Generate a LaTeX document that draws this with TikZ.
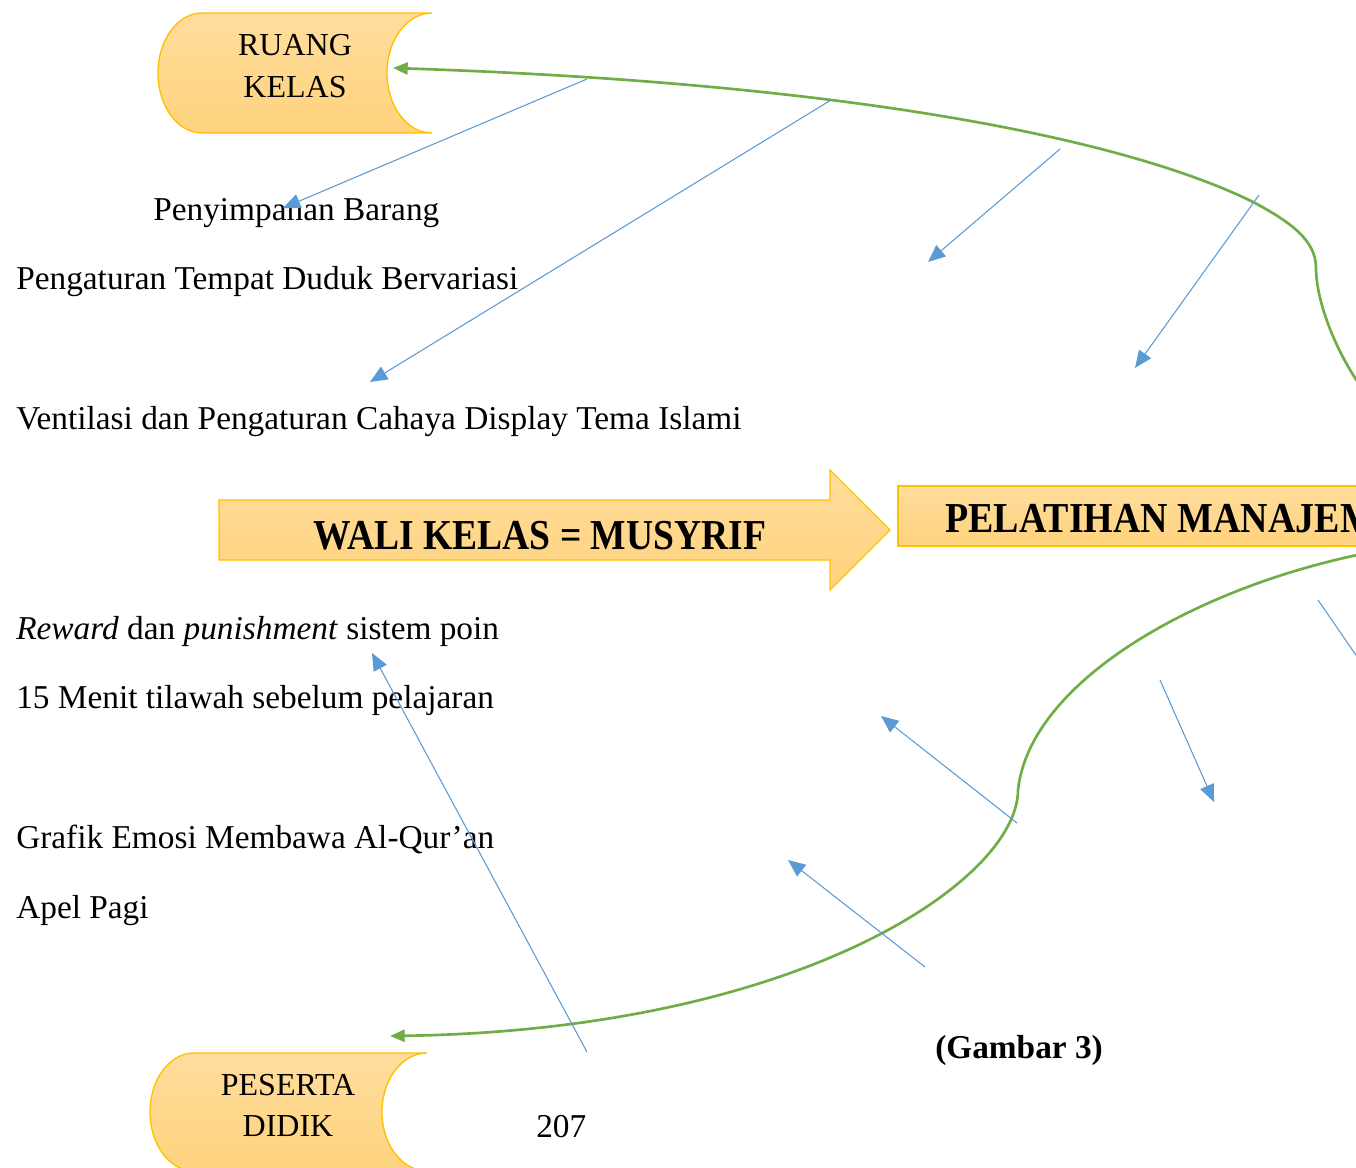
\documentclass[tikz,border=0pt]{standalone}
\usepackage{fontspec}
\setmainfont{Liberation Serif}
\usetikzlibrary{arrows.meta}
\definecolor{goldline}{HTML}{FFC000}
\definecolor{filltop}{HTML}{FFDD9C}
\definecolor{fillbot}{HTML}{FFD37E}
\definecolor{grn}{HTML}{70AD47}
\definecolor{blu}{HTML}{5B9BD5}
\tikzset{
  shapebox/.style={draw=goldline, line width=1pt, top color=filltop, bottom color=fillbot},
  greenarrow/.style={draw=grn, line width=2pt, -{Triangle[length=11pt,width=9pt]}},
  bluearrow/.style={draw=blu, line width=0.8pt, -{Triangle[length=13pt,width=11pt]}},
  bodytext/.style={font=\fontsize{25}{30}\selectfont, inner sep=0pt, anchor=base west},
  shapetext/.style={font=\fontsize{24}{29}\selectfont, inner sep=0pt, anchor=base},
  titletext/.style={font=\bfseries\fontsize{32}{38}\selectfont, inner sep=0pt, anchor=base},
}
\begin{document}
\begin{tikzpicture}[x=0.75pt,y=-0.75pt]
\useasboundingbox (0,0) rectangle (1356,1167);
\clip (0,0) rectangle (1356,1167);

% RUANG KELAS shape
\path[shapebox] (202,13) -- (432,13)
  .. controls (407.1,13) and (387,39.9) .. (387,73)
  .. controls (387,106.1) and (407.1,133) .. (432,133)
  -- (202,133)
  .. controls (177.7,133) and (158,106.1) .. (158,73)
  .. controls (158,39.9) and (177.7,13) .. (202,13) -- cycle;
\node[shapetext] (rk1) at (295,55) {RUANG};
\node[shapetext] (rk2) at (295,97) {KELAS};
\coordinate (rktip) at (393,68);

% PESERTA DIDIK shape
\path[shapebox] (194,1053) -- (427,1053)
  .. controls (402.1,1053) and (382,1079.4) .. (382,1112)
  .. controls (382,1144.6) and (402.1,1171) .. (427,1171)
  -- (194,1171)
  .. controls (169.7,1171) and (150,1144.6) .. (150,1112)
  .. controls (150,1079.4) and (169.7,1053) .. (194,1053) -- cycle;
\node[shapetext] (pd1) at (288,1095) {PESERTA};
\node[shapetext] (pd2) at (288,1136) {DIDIK};
\coordinate (pdtip) at (390,1036);

% Big arrow
\path[shapebox] (219,500) -- (830,500) -- (830,470) -- (890,530) -- (830,590) -- (830,560) -- (219,560) -- cycle;
\node[titletext] (wali) at (540,549) {\scalebox{0.88}[1]{WALI KELAS = MUSYRIF}};

% PELATIHAN box
\path[shapebox] (898,486) rectangle (1375,546);
\node[titletext, anchor=base west] (pel) at (945,532) {\scalebox{0.89}[1]{PELATIHAN MANAJEMEN}};

% Green curves
\coordinate (gtop) at (1372,402);
\coordinate (gbot) at (1372,552);
\draw[greenarrow] (gtop) .. controls (1335,355) and (1316,300) .. (1316,268)
  .. controls (1316,240) and (1290,222) .. (1255,203)
  .. controls (1150,150) and (900,85) .. (rktip);
\draw[greenarrow] (gbot) .. controls (1200,585) and (1030,680) .. (1018,790)
  .. controls (1018,880) and (800,1030) .. (pdtip);

% Body texts
\node[bodytext] (t1) at (153,220) {Penyimpanan Barang};
\node[bodytext] (t2) at (16,289) {Pengaturan Tempat Duduk Bervariasi};
\node[bodytext] (t3) at (16,429) {Ventilasi dan Pengaturan Cahaya Display Tema Islami};
\node[bodytext] (t4) at (16,639) {\textit{Reward} dan \textit{punishment} sistem poin};
\node[bodytext] (t5) at (16,708) {15 Menit tilawah sebelum pelajaran};
\node[bodytext] (t6) at (16,848) {Grafik Emosi Membawa Al-Qur’an};
\node[bodytext] (t7) at (16,918) {Apel Pagi};
\node[bodytext, font=\bfseries\fontsize{25}{30}\selectfont] (gam) at (935,1058) {(Gambar 3)};
\node[bodytext] (pg) at (536,1137) {207};

% Blue arrows
\coordinate (b1s) at (587,79);    \coordinate (b1e) at (283,208);
\coordinate (b2s) at (831,100);   \coordinate (b2e) at (370,382);
\coordinate (b3s) at (1060,149);  \coordinate (b3e) at (928,262);
\coordinate (b4s) at (1259,195);  \coordinate (b4e) at (1135,368);
\coordinate (b5s) at (1318,600);  \coordinate (b5e) at (1380,690);
\coordinate (b6s) at (1160,680);  \coordinate (b6e) at (1214,802);
\coordinate (b7s) at (1017,823);  \coordinate (b7e) at (881,716);
\coordinate (b8s) at (925,967);   \coordinate (b8e) at (788,860);
\coordinate (b9s) at (587,1052);  \coordinate (b9e) at (372,653);
\foreach \i in {1,...,9} {\draw[bluearrow] (b\i s) -- (b\i e);}
\end{tikzpicture}
\end{document}
